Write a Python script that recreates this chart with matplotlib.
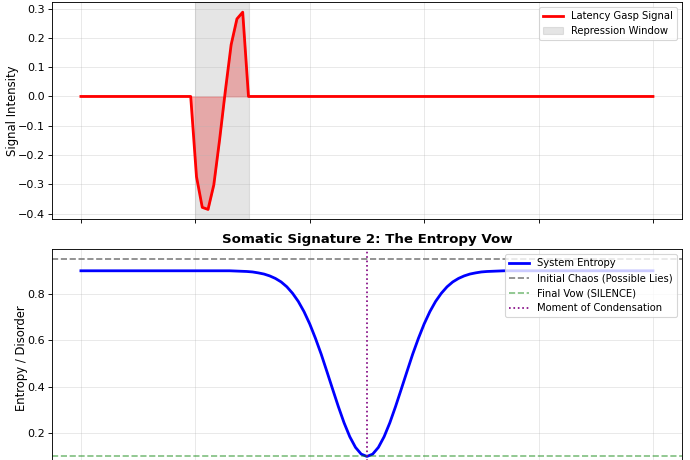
import numpy as np
import matplotlib
matplotlib.use("Agg")
import matplotlib.pyplot as plt

# top panel: latency gasp signal, sampled on 100 points over 0..10
signal_t = np.linspace(0, 10, 100)
signal = ([0.0] * 20
          + [-0.274, -0.379, -0.386, -0.302, -0.148, 0.02, 0.177, 0.265, 0.288]
          + [0.0] * 71)
window = (2.0, 2.93)

# bottom panel: system entropy, read every 0.1 over 0..10
entropy_t = np.round(np.arange(0, 10.05, 0.1), 1)
entropy = ([0.90] * 27
           + [0.899, 0.898, 0.897, 0.895, 0.891, 0.886, 0.878, 0.867, 0.852, 0.831,
              0.803, 0.768, 0.724, 0.671, 0.609, 0.541, 0.466, 0.390, 0.315, 0.245,
              0.185, 0.139, 0.110]
           + [0.100]
           + [0.110, 0.139, 0.185, 0.245, 0.315, 0.390, 0.466, 0.541, 0.609, 0.671,
              0.724, 0.768, 0.803, 0.831, 0.852, 0.867, 0.878, 0.886, 0.891, 0.895,
              0.897, 0.898, 0.899]
           + [0.90] * 27)
chaos_level = 0.95
vow_level = 0.10
condensation_t = 5.0

fig = plt.figure(figsize=(8.625, 5.75), dpi=80)
ax1 = fig.add_axes([0.0758, 0.5233, 0.912, 0.4717])
ax2 = fig.add_axes([0.0758, -0.0137, 0.912, 0.4717], sharex=ax1)

ax1.plot(signal_t, signal, color="red", lw=2.5, label="Latency Gasp Signal")
ax1.fill_between(signal_t, signal, 0, color="red", alpha=0.3)
ax1.axvspan(window[0], window[1], color="gray", alpha=0.2, label="Repression Window")
ax1.set_ylabel("Signal Intensity", fontsize=10.5, labelpad=-1)
ax1.legend(loc="upper right", fontsize=9)
ax1.grid(True, alpha=0.3)
ax1.tick_params(labelsize=10, labelbottom=False)

ax2.plot(entropy_t, entropy, color="blue", lw=2.5, label="System Entropy")
ax2.axhline(chaos_level, color="gray", ls="--", label="Initial Chaos (Possible Lies)")
ax2.axhline(vow_level, color="green", ls="--", alpha=0.5, label="Final Vow (SILENCE)")
ax2.axvline(condensation_t, color="purple", ls=":", label="Moment of Condensation")
ax2.set_title("Somatic Signature 2: The Entropy Vow", fontsize=12, fontweight="bold")
ax2.set_ylabel("Entropy / Disorder", fontsize=10.5, labelpad=-1)
ax2.legend(loc="upper right", fontsize=9)
ax2.grid(True, alpha=0.3)
# x tick labels of the lower panel fall below the visible area
ax2.tick_params(labelsize=10, labelbottom=False)

fig.savefig("out.png", dpi=80)
